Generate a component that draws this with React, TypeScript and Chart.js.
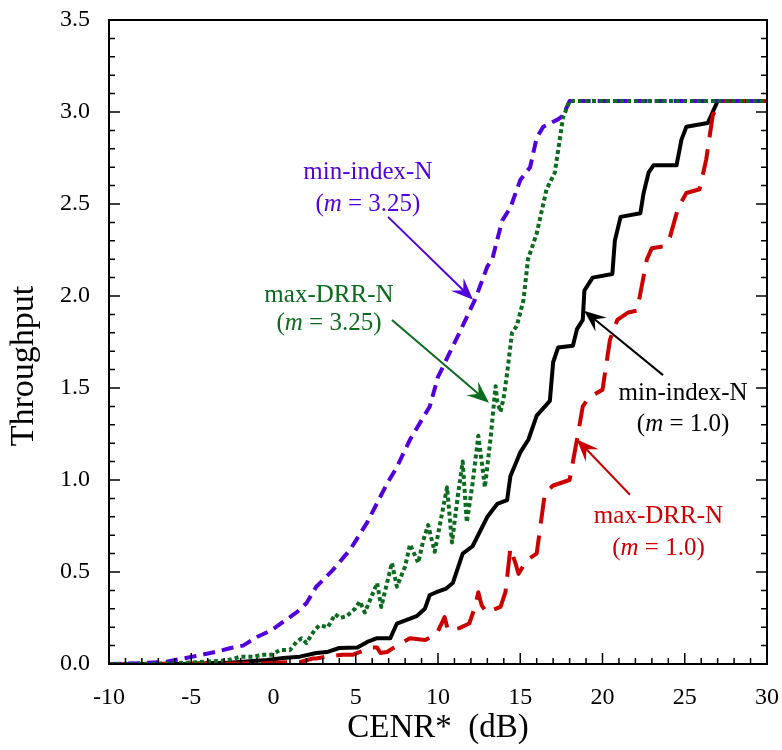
import React, { useEffect, useRef } from 'react';
import { Chart, registerables } from 'chart.js';

Chart.register(...registerables);

const FONT = "'Liberation Serif', 'Times New Roman', Times, serif";

// min-index-N (m = 3.25) — blue dashed
const xMinIdx325 = [-10, -8, -6.5, -4.35, -3.55, -2.6, -1.85, -1.0, -0.1, 0.6, 1.4, 2.0, 2.6, 3.6, 4.65, 5.7, 6.9, 7.5, 8.3, 9.5, 10.0, 11.3, 12.25, 13.0, 13.3, 13.9, 14.4, 15.0, 15.6, 16.0, 16.4, 17.3, 17.6, 18.0, 30];
const yMinIdx325 = [0, 0.005, 0.012, 0.05, 0.065, 0.087, 0.1, 0.147, 0.185, 0.23, 0.28, 0.33, 0.42, 0.51, 0.62, 0.77, 0.98, 1.07, 1.22, 1.4, 1.56, 1.8, 1.98, 2.16, 2.2, 2.41, 2.48, 2.63, 2.7, 2.86, 2.92, 2.96, 2.98, 3.06, 3.06];

// max-DRR-N (m = 3.25) — green dotted
const xMaxDrr325 = [-10, -7, -5, -2.8, -2.0, -1.25, -0.6, -0.1, 0.4, 1.0, 1.4, 1.7, 2.0, 2.5, 2.8, 3.3, 3.75, 4.05, 4.45, 4.95, 5.25, 5.55, 6.0, 6.3, 6.55, 7.2, 7.5, 8.0, 8.3, 8.8, 9.1, 9.4, 9.8, 10.25, 10.55, 10.85, 11.2, 11.5, 11.75, 12.1, 12.45, 12.7, 12.85, 13.2, 13.5, 13.6, 13.8, 14.0, 14.2, 14.5, 14.8, 15.2, 15.47, 16.0, 16.6, 17.1, 17.3, 17.6, 18.0, 30];
const yMaxDrr325 = [0, 0.002, 0.008, 0.02, 0.04, 0.04, 0.05, 0.05, 0.076, 0.076, 0.12, 0.14, 0.114, 0.185, 0.21, 0.2, 0.27, 0.25, 0.26, 0.3, 0.34, 0.28, 0.375, 0.44, 0.31, 0.55, 0.42, 0.53, 0.65, 0.55, 0.67, 0.755, 0.61, 0.82, 0.96, 0.66, 0.91, 1.1, 0.77, 0.98, 1.24, 1.07, 0.96, 1.23, 1.51, 1.43, 1.37, 1.45, 1.58, 1.8, 1.84, 1.98, 2.2, 2.34, 2.58, 2.67, 2.79, 2.97, 3.06, 3.06];

// min-index-N (m = 1.0) — black solid
const xMinIdx10 = [-10, -5, -2.5, -0.4, 0.6, 1.6, 2.6, 3.25, 4.0, 5.1, 5.7, 6.3, 7.1, 7.5, 8.1, 8.7, 9.2, 9.5, 9.9, 10.5, 10.9, 11.5, 12.1, 13.0, 13.6, 14.2, 14.4, 15.0, 15.5, 16.0, 16.8, 17.0, 17.3, 18.2, 18.45, 18.8, 18.9, 19.4, 20.6, 20.75, 21.1, 22.3, 22.5, 22.8, 23.1, 24.5, 24.8, 25.1, 26.4, 27.0, 30];
const yMinIdx10 = [0, 0.002, 0.008, 0.022, 0.033, 0.04, 0.06, 0.065, 0.087, 0.09, 0.12, 0.14, 0.14, 0.22, 0.24, 0.26, 0.3, 0.375, 0.39, 0.41, 0.44, 0.6, 0.64, 0.8, 0.87, 0.89, 1.02, 1.15, 1.22, 1.35, 1.43, 1.64, 1.72, 1.73, 1.82, 1.87, 2.03, 2.1, 2.12, 2.3, 2.43, 2.45, 2.56, 2.67, 2.71, 2.71, 2.85, 2.92, 2.94, 3.06, 3.06];

// max-DRR-N (m = 1.0) — red long dashed
const xMaxDrr10 = [-10, -2, -0.4, 0.8, 1.6, 2.4, 2.6, 3.25, 4.2, 4.8, 5.1, 6.0, 6.3, 6.5, 6.9, 7.7, 8.3, 9.2, 9.9, 10.4, 10.6, 11.3, 11.9, 12.25, 12.45, 12.65, 12.95, 13.8, 14.1, 14.4, 14.7, 14.9, 15.4, 16.0, 16.5, 17.0, 18.0, 18.45, 18.8, 19.2, 20.0, 20.45, 20.6, 20.9, 21.55, 22.1, 22.7, 23.0, 23.7, 24.1, 24.6, 25.1, 25.9, 26.3, 26.7, 27.1, 30];
const yMaxDrr10 = [0, 0.003, 0.005, 0.01, 0.01, 0.03, 0.03, 0.04, 0.05, 0.05, 0.06, 0.09, 0.09, 0.06, 0.065, 0.11, 0.14, 0.13, 0.16, 0.255, 0.185, 0.195, 0.22, 0.31, 0.39, 0.32, 0.28, 0.31, 0.39, 0.63, 0.55, 0.49, 0.565, 0.6, 0.93, 0.97, 1.0, 1.22, 1.4, 1.45, 1.49, 1.76, 1.8, 1.87, 1.91, 1.92, 2.2, 2.26, 2.27, 2.32, 2.48, 2.56, 2.58, 2.74, 2.98, 3.06, 3.06];

const xTickValues = [-10, -5, 0, 5, 10, 15, 20, 25, 30];
const yTickLabels = ['0.0', '0.5', '1.0', '1.5', '2.0', '2.5', '3.0', '3.5'];

const X_TITLE = 'CENR*  (dB)';
const Y_TITLE = 'Throughput';

const COLORS = { blue: '#5200dc', green: '#0b6b1e', black: '#000000', red: '#cc0000' };

// Annotations (data units)
const annLabels = ['min-index-N', 'max-DRR-N', 'min-index-N', 'max-DRR-N'];
const annM = ['3.25', '3.25', '1.0', '1.0'];
const annColors = [COLORS.blue, COLORS.green, COLORS.black, COLORS.red];
const annTextX = [5.74, 3.37, 24.9, 23.4];
const annLine1Y = [2.67, 2.005, 1.473, 0.8];
const annLine2Y = [2.5, 1.85, 1.3, 0.63];
const annFromX = [6.96, 7.2, 23.68, 21.67];
const annFromY = [2.43, 1.87, 1.57, 0.92];
const annToX = [12.13, 13.1, 18.88, 18.45];
const annToY = [1.98, 1.42, 1.92, 1.22];

const toPts = (xs: number[], ys: number[]) => xs.map((x, i) => ({ x, y: ys[i] }));

function drawArrow(ctx: CanvasRenderingContext2D, x1: number, y1: number, x2: number, y2: number, color: string) {
  const dx = x2 - x1, dy = y2 - y1;
  const len = Math.hypot(dx, dy);
  const ux = dx / len, uy = dy / len;
  const nx = -uy, ny = ux;
  const L = 22, W = 9;
  ctx.strokeStyle = color;
  ctx.fillStyle = color;
  ctx.lineWidth = 2;
  ctx.setLineDash([]);
  ctx.beginPath();
  ctx.moveTo(x1, y1);
  ctx.lineTo(x2 - ux * L * 0.6, y2 - uy * L * 0.6);
  ctx.stroke();
  ctx.beginPath();
  ctx.moveTo(x2, y2);
  ctx.lineTo(x2 - ux * L + nx * W, y2 - uy * L + ny * W);
  ctx.lineTo(x2 - ux * L * 0.62, y2 - uy * L * 0.62);
  ctx.lineTo(x2 - ux * L - nx * W, y2 - uy * L - ny * W);
  ctx.closePath();
  ctx.fill();
}

const zeroPad = (scale: any) => {
  scale.paddingLeft = 0;
  scale.paddingRight = 0;
  scale.paddingTop = 0;
  scale.paddingBottom = 0;
};

const framePlugin = {
  id: 'framePlugin',
  afterDatasetsDraw(chart: any) {
    const { ctx, chartArea: a, scales } = chart;
    const xs = scales.x, ys = scales.y;
    ctx.save();
    ctx.setLineDash([]);
    ctx.strokeStyle = '#000';
    ctx.lineWidth = 1.5;
    ctx.beginPath();
    for (let v = -10; v <= 30; v++) {
      const p = xs.getPixelForValue(v);
      const L = v % 5 === 0 ? 11 : 6;
      ctx.moveTo(p, a.bottom);
      ctx.lineTo(p, a.bottom - L);
    }
    for (let i = 0; i <= 35; i++) {
      const p = ys.getPixelForValue(i / 10);
      const L = i % 5 === 0 ? 11 : 6;
      ctx.moveTo(a.left, p);
      ctx.lineTo(a.left + L, p);
      ctx.moveTo(a.right, p);
      ctx.lineTo(a.right - L, p);
    }
    ctx.stroke();
    ctx.lineWidth = 2;
    ctx.strokeRect(a.left, a.top, a.right - a.left, a.bottom - a.top);

    const fs = 25;
    for (let k = 0; k < annLabels.length; k++) {
      const cx = xs.getPixelForValue(annTextX[k]);
      const y1 = ys.getPixelForValue(annLine1Y[k]);
      const y2 = ys.getPixelForValue(annLine2Y[k]);
      ctx.fillStyle = annColors[k];
      ctx.textBaseline = 'middle';
      ctx.textAlign = 'center';
      ctx.font = `${fs}px ${FONT}`;
      ctx.fillText(annLabels[k], cx, y1);
      const pre = '(';
      const it = 'm';
      const post = ` = ${annM[k]})`;
      ctx.font = `${fs}px ${FONT}`;
      const w1 = ctx.measureText(pre).width;
      const w3 = ctx.measureText(post).width;
      ctx.font = `italic ${fs}px ${FONT}`;
      const w2 = ctx.measureText(it).width;
      let x = cx - (w1 + w2 + w3) / 2;
      ctx.textAlign = 'left';
      ctx.font = `${fs}px ${FONT}`;
      ctx.fillText(pre, x, y2);
      x += w1;
      ctx.font = `italic ${fs}px ${FONT}`;
      ctx.fillText(it, x, y2);
      x += w2;
      ctx.font = `${fs}px ${FONT}`;
      ctx.fillText(post, x, y2);

      drawArrow(
        ctx,
        xs.getPixelForValue(annFromX[k]),
        ys.getPixelForValue(annFromY[k]),
        xs.getPixelForValue(annToX[k]),
        ys.getPixelForValue(annToY[k]),
        annColors[k]
      );
    }

    ctx.save();
    ctx.translate(24, 366);
    ctx.rotate(-Math.PI / 2);
    ctx.fillStyle = '#000';
    ctx.font = `34px ${FONT}`;
    ctx.textAlign = 'center';
    ctx.textBaseline = 'middle';
    ctx.fillText(Y_TITLE, 0, 0);
    ctx.restore();

    ctx.restore();
  },
};

export default function App() {
  const ref = useRef<HTMLCanvasElement | null>(null);

  useEffect(() => {
    document.body.style.margin = '0';
    const canvas = ref.current;
    if (!canvas) return;
    const common = { pointRadius: 0, pointHoverRadius: 0, tension: 0, fill: false, borderWidth: 4, borderJoinStyle: 'round' as const };
    const chart = new Chart(canvas, {
      type: 'line',
      data: {
        datasets: [
          { ...common, label: 'max-DRR-N (m = 3.25)', data: toPts(xMaxDrr325, yMaxDrr325), borderColor: COLORS.green, borderDash: [4, 3] },
          { ...common, label: 'min-index-N (m = 3.25)', data: toPts(xMinIdx325, yMinIdx325), borderColor: COLORS.blue, borderDash: [12, 7] },
          { ...common, label: 'max-DRR-N (m = 1.0)', data: toPts(xMaxDrr10, yMaxDrr10), borderColor: COLORS.red, borderDash: [26, 12] },
          { ...common, label: 'min-index-N (m = 1.0)', data: toPts(xMinIdx10, yMinIdx10), borderColor: COLORS.black },
        ],
      },
      options: {
        responsive: false,
        animation: false,
        devicePixelRatio: 1,
        layout: { padding: { left: 0, top: 20, right: 15, bottom: 0 } },
        plugins: { legend: { display: false }, tooltip: { enabled: false } },
        scales: {
          x: {
            type: 'linear',
            min: -10,
            max: 30,
            grid: { display: false },
            border: { display: false },
            afterBuildTicks: (scale: any) => {
              scale.ticks = xTickValues.map((v) => ({ value: v }));
            },
            afterFit: (scale: any) => {
              scale.height = 86;
              zeroPad(scale);
            },
            ticks: {
              color: '#000',
              padding: 11,
              maxRotation: 0,
              font: { family: FONT, size: 24 },
              callback: (v: any) => String(v),
            },
            title: {
              display: true,
              text: X_TITLE,
              color: '#000',
              font: { family: FONT, size: 33 },
              padding: { top: 0, bottom: 2 },
            },
          },
          y: {
            type: 'linear',
            min: 0,
            max: 3.5,
            grid: { display: false },
            border: { display: false },
            afterBuildTicks: (scale: any) => {
              scale.ticks = yTickLabels.map((s) => ({ value: parseFloat(s) }));
            },
            afterFit: (scale: any) => {
              scale.width = 109;
              zeroPad(scale);
            },
            ticks: {
              color: '#000',
              padding: 11,
              font: { family: FONT, size: 24 },
              callback: (v: any) => Number(v).toFixed(1),
            },
          },
        },
      },
      plugins: [framePlugin],
    });
    return () => chart.destroy();
  }, []);

  return (
    <div style={{ position: 'fixed', left: 0, top: 0, width: 782, height: 750, background: '#fff' }}>
      <canvas ref={ref} width={782} height={750} style={{ display: 'block', width: 782, height: 750 }} />
    </div>
  );
}
